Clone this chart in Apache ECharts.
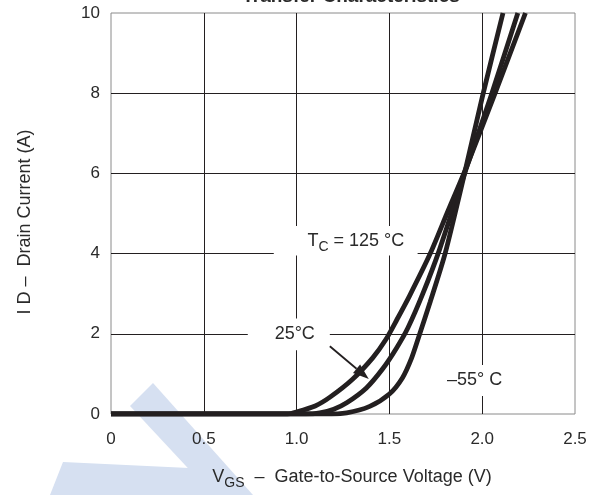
<!DOCTYPE html>
<html><head><meta charset="utf-8">
<script src="https://cdn.jsdelivr.net/npm/echarts@6/dist/echarts.min.js"></script>
<style>html,body{margin:0;padding:0;background:#fff}#c{width:600px;height:495px}</style>
</head><body><div id="c"></div>
<script>
// ---- data ----
const xTicks = [0, 0.5, 1.0, 1.5, 2.0, 2.5];
const yTicks = [0, 2, 4, 6, 8, 10];
const curve125 = [[0,0],[0.95,0],[1.0,0.05],[1.1,0.2],[1.18,0.42],[1.3,0.86],[1.41,1.4],[1.48,1.85],[1.54,2.35],[1.61,2.96],[1.72,4.0],[1.81,5.0],[1.91,6.1],[2.067,7.97],[2.233,10]];
const curve25 = [[0,0],[1.05,0],[1.125,0.03],[1.2,0.12],[1.27,0.28],[1.376,0.65],[1.466,1.14],[1.538,1.64],[1.6,2.15],[1.68,3.0],[1.77,4.1],[1.905,6.0],[2.05,7.97],[2.192,10]];
const curveM55 = [[0,0],[1.15,0],[1.27,0.03],[1.394,0.19],[1.5,0.5],[1.57,0.9],[1.62,1.4],[1.66,1.95],[1.72,2.8],[1.8,4.0],[1.905,6.0],[2.004,7.97],[2.112,10]];
const titleText = 'Transfer Characteristics';
const xName = ['V', 'GS', '  –  Gate-to-Source Voltage (V)'];
const yName = 'I D –  Drain Current (A)';
const label125 = ['T', 'C', ' = 125 °C'];
const label25 = '25°C';
const labelM55 = '–55° C';

const FONT = "'Liberation Sans', Arial, Helvetica, sans-serif";
const INK = '#231f20';
const TXT = '#2a2a2a';
const chart = echarts.init(document.getElementById('c'), null, {renderer: 'canvas'});

function lineSeries(name, data) {
  return {
    name, type: 'line', data, showSymbol: false, smooth: 0.25,
    lineStyle: {color: INK, width: 4.8}, z: 5, silent: true
  };
}
const subRich = () => ({
  a: {fontSize: 18, fontFamily: FONT, color: TXT, fill: TXT, verticalAlign: 'top', lineHeight: 18},
  s: {fontSize: 14, fontFamily: FONT, color: TXT, fill: TXT, verticalAlign: 'top', lineHeight: 14, padding: [8, 0, 0, 0]}
});

chart.setOption({
  animation: false,
  backgroundColor: '#fff',
  grid: {left: 111, right: 25, top: 13, bottom: 79, show: true, borderColor: '#8a8a8a', borderWidth: 1, containLabel: false},
  xAxis: {
    type: 'value', min: xTicks[0], max: xTicks[xTicks.length-1], interval: xTicks[1]-xTicks[0],
    axisLine: {show: false}, axisTick: {show: false},
    splitLine: {show: true, showMinLine: false, showMaxLine: false, lineStyle: {color: INK, width: 1}},
    axisLabel: {margin: 17, fontSize: 17, color: TXT, fontFamily: FONT,
      formatter: v => v === 0 ? '0' : v.toFixed(1)},
    name: '{a|' + xName[0] + '}{s|' + xName[1] + '}{a|' + xName[2] + '}',
    nameLocation: 'middle', nameGap: 54,
    nameTextStyle: {fontFamily: FONT, color: TXT, padding: [0, 0, 0, 18], rich: subRich()}
  },
  yAxis: {
    type: 'value', min: yTicks[0], max: yTicks[yTicks.length-1], interval: yTicks[1]-yTicks[0],
    axisLine: {show: false}, axisTick: {show: false},
    splitLine: {show: true, showMinLine: false, showMaxLine: false, lineStyle: {color: INK, width: 1}},
    axisLabel: {margin: 11, fontSize: 17, color: TXT, fontFamily: FONT},
    name: yName, nameLocation: 'middle', nameGap: 77, nameRotate: 90,
    nameTextStyle: {fontSize: 18, fontFamily: FONT, color: TXT, padding: [0, 17, 0, 0]}
  },
  series: [lineSeries('125', curve125), lineSeries('25', curve25), lineSeries('-55', curveM55)]
});

function px(v, i) { return chart.convertToPixel({gridIndex: 0}, [v, i]); }
function boxRect(v0, i0, v1, i1) {
  const a = px(v0, i1), b = px(v1, i0);
  return {type: 'rect', shape: {x: a[0], y: a[1], width: b[0]-a[0], height: b[1]-a[1]},
          style: {fill: '#fff'}, z: 1, silent: true};
}
function textAt(v, i, text, rich) {
  const p = px(v, i);
  const el = {type: 'text', x: p[0], y: p[1], z: 10, silent: true,
    style: {text, fill: TXT, font: '18px ' + FONT, align: 'center', verticalAlign: 'middle'}};
  if (rich) el.style.rich = rich;
  return el;
}

const arrowFrom = px(1.179, 1.69), arrowTo = px(1.389, 0.87);
const ang = Math.atan2(arrowTo[1]-arrowFrom[1], arrowTo[0]-arrowFrom[0]);
const hl = 16, hw = 5.5;
const base = [arrowTo[0]-hl*Math.cos(ang), arrowTo[1]-hl*Math.sin(ang)];
const head = [arrowTo,
  [base[0]+hw*Math.sin(ang), base[1]-hw*Math.cos(ang)],
  [base[0]-hw*Math.sin(ang), base[1]+hw*Math.cos(ang)]];

chart.setOption({
  graphic: [
    // watermark (decorative)
    {type: 'polygon', z: -10, silent: true, shape: {points: [[130,406],[153,383],[253,495],[213,495]]}, style: {fill: '#d6e0f1'}},
    {type: 'polygon', z: -10, silent: true, shape: {points: [[63,462],[189,468],[214,495],[50,495]]}, style: {fill: '#d6e0f1'}},
    // title (cut at the top edge)
    {type: 'text', x: 351, y: -3, z: 10, silent: true,
      style: {text: titleText, font: 'bold 19px ' + FONT, fill: TXT, align: 'center', verticalAlign: 'middle'}},
    // label boxes
    boxRect(0.877, 3.95, 1.652, 4.69),
    boxRect(0.737, 1.59, 1.179, 2.38),
    boxRect(1.77, 0.45, 2.16, 1.22),
    textAt(1.319, 4.32, '{a|' + label125[0] + '}{s|' + label125[1] + '}{a|' + label125[2] + '}', subRich()),
    textAt(0.99, 1.985, label25),
    textAt(1.959, 0.844, labelM55),
    // arrow
    {type: 'line', z: 6, silent: true, shape: {x1: arrowFrom[0], y1: arrowFrom[1], x2: base[0], y2: base[1]}, style: {stroke: INK, lineWidth: 1.8}},
    {type: 'polygon', z: 6, silent: true, shape: {points: head}, style: {fill: INK}}
  ]
});
</script></body></html>
